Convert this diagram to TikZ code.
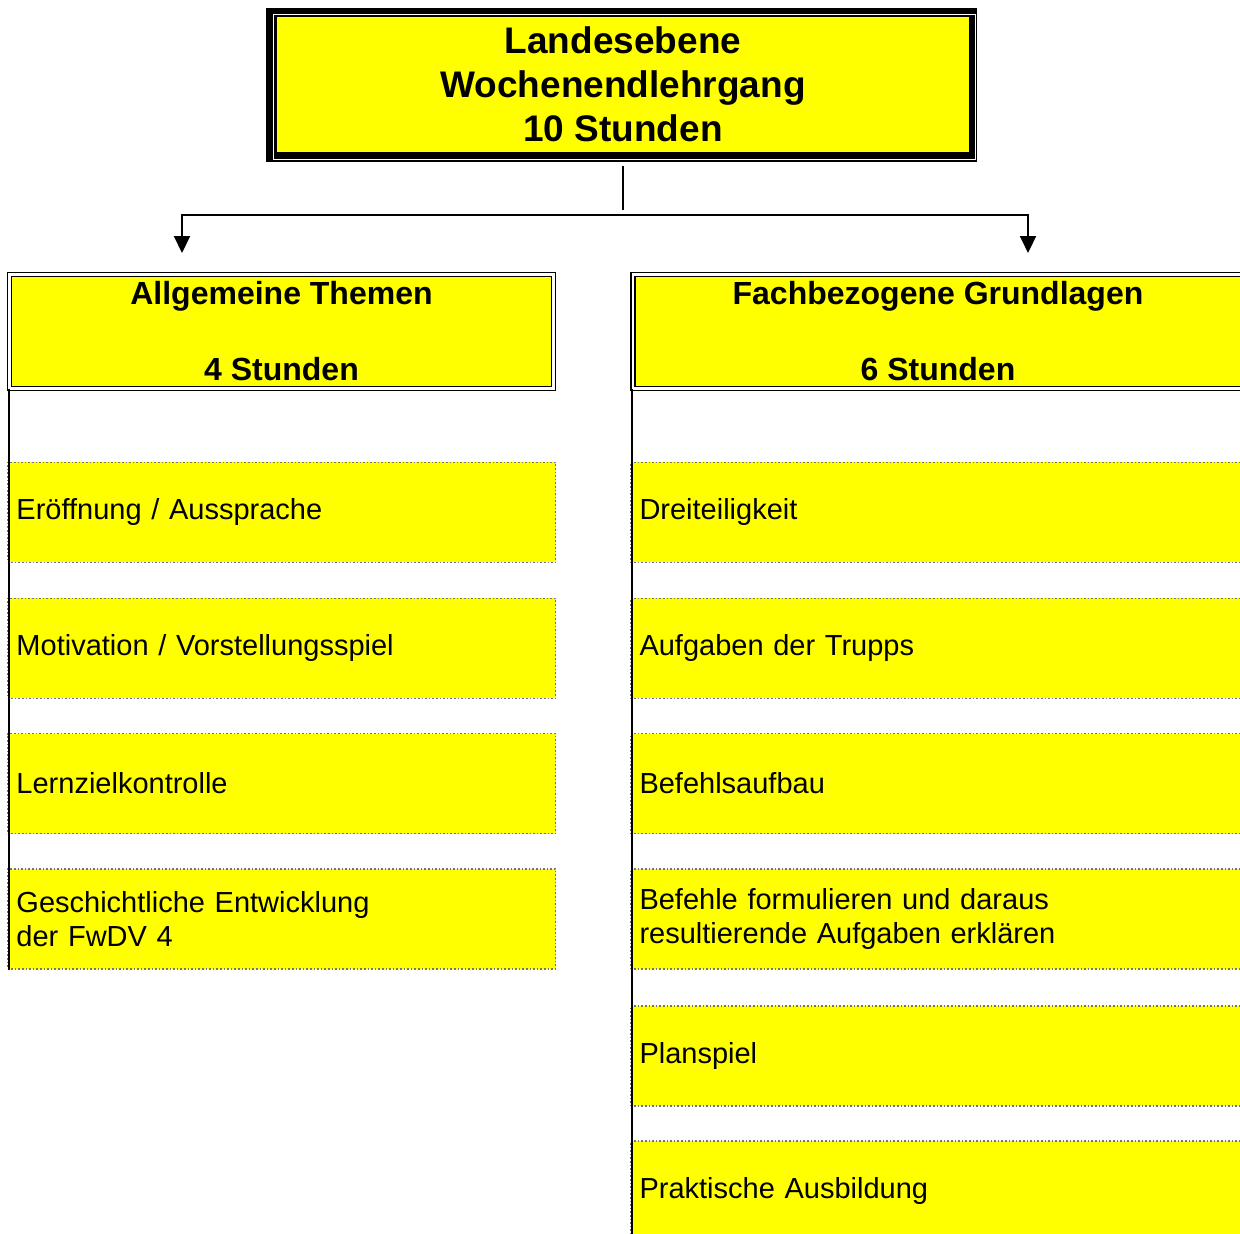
\documentclass[tikz,border=0pt]{standalone}
\usepackage{fontspec}
\setmainfont{Liberation Sans}
\usetikzlibrary{positioning,arrows.meta}
\pgfdeclarelayer{bg}
\pgfsetlayers{bg,main}
\definecolor{gelb}{RGB}{255,255,0}

\begin{document}
\begin{tikzpicture}[x=0.5pt,y=-0.5pt,
    kopf/.style={fill=gelb, draw=black, double, double distance=1.2pt, line width=0.7pt,
      minimum height=57pt, align=center, inner sep=0pt,
      font=\fontsize{16}{19}\selectfont\bfseries},
    thema/.style={fill=gelb, draw=black!55, densely dotted, line width=0.8pt,
      minimum height=50pt, inner xsep=4.5pt, inner ysep=0pt, align=left,
      font=\fontsize{14.5}{17}\selectfont},
    spalte/.style={color = black, line width=1pt},
    pfeil/.style={-{Triangle[width=8pt,length=8.5pt]}, line width=1pt}]
  \useasboundingbox (0,0) rectangle (1240,1233);

  % oberste Ebene
  \node[fill=gelb, minimum width=346pt, minimum height=67.5pt, inner sep=0pt, align=center,
        font=\fontsize{18.5}{22}\selectfont\bfseries] (top) at (623,84.5)
        {Landesebene\\Wochenendlehrgang\\10 Stunden};
  \begin{pgfonlayer}{bg}
    \fill[black] ([xshift=-5.5pt,yshift=4.5pt]top.north west) rectangle ([xshift=4pt,yshift=-5pt]top.south east);
    \draw[white, line width=0.5pt] ([xshift=-1.5pt,yshift=1pt]top.north west) rectangle ([xshift=2.8pt,yshift=-3.5pt]top.south east);
  \end{pgfonlayer}

  \node[kopf, minimum width=272pt] (kopfL) at (281.5,331.5) {Allgemeine Themen\\ \\4 Stunden};
  \node[kopf, minimum width=305pt] (kopfR) at (938,331.5) {Fachbezogene Grundlagen\\ \\6 Stunden};

  \coordinate (knoten) at (623,215);
  \coordinate (zielL) at (182,253);
  \coordinate (zielR) at (1028,253);
  \draw[line width=0.8pt] ([yshift=-7pt]top.south) -- ([yshift=2.5pt]knoten);
  \draw[pfeil] (knoten) -| (zielL);
  \draw[pfeil] (knoten) -| (zielR);

  % linke Spalte
  \node[thema, minimum width=274pt, text width=265pt, below=36.2pt of kopfL] (aL1) {Eröffnung / Aussprache};
  \node[thema, minimum width=274pt, text width=265pt, below=17.2pt of aL1] (aL2) {Motivation / Vorstellungsspiel};
  \node[thema, minimum width=274pt, text width=265pt, below=16.8pt of aL2] (aL3) {Lernzielkontrolle};
  \node[thema, minimum width=274pt, text width=265pt, below=16.8pt of aL3] (aL4) {Geschichtliche Entwicklung\\der FwDV 4};

  % rechte Spalte
  \node[thema, minimum width=307.5pt, text width=298.5pt, below=36.2pt of kopfR] (aR1) {Dreiteiligkeit};
  \node[thema, minimum width=307.5pt, text width=298.5pt, below=17.2pt of aR1] (aR2) {Aufgaben der Trupps};
  \node[thema, minimum width=307.5pt, text width=298.5pt, below=16.8pt of aR2] (aR3) {Befehlsaufbau};
  \node[thema, minimum width=307.5pt, text width=298.5pt, below=16.8pt of aR3] (aR4) {Befehle formulieren und daraus\\resultierende Aufgaben erklären};
  \node[thema, minimum width=307.5pt, text width=298.5pt, below=17.7pt of aR4] (aR5) {Planspiel};
  \node[thema, minimum width=307.5pt, text width=298.5pt, below=16.8pt of aR5] (aR6) {Praktische Ausbildung};

  \coordinate (endeR) at (631,1240);
  \draw[spalte] (kopfL.south west) -- (kopfL.south west |- aL4.south);
  \draw[spalte] (kopfR.south west) -- (kopfR.south west |- endeR);
\end{tikzpicture}
\end{document}
